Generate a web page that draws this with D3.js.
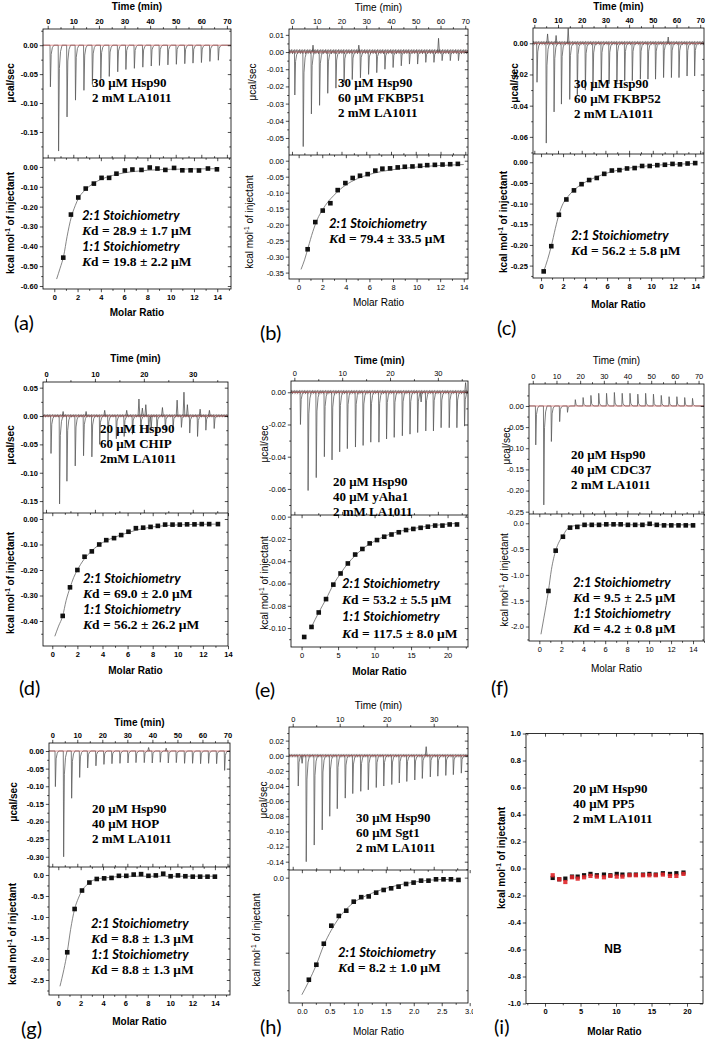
<!DOCTYPE html>
<html>
<head>
<meta charset="utf-8">
<script src="https://cdn.jsdelivr.net/npm/d3@7"></script>
<style>
  body { margin: 0; background: #fff; }
</style>
</head>
<body>
<script>
// ---------- values ----------
var time70Ticks = [0, 10, 20, 30, 40, 50, 60, 70];
var time30Ticks = [0, 10, 20, 30];
var ratio14Ticks = [0, 2, 4, 6, 8, 10, 12, 14];
var ratio20Ticks = [0, 5, 10, 15, 20];
var ratio3Ticks = [0, 0.5, 1.0, 1.5, 2.0, 2.5, 3.0];

// (a) 30 uM Hsp90 + 2 mM LA1011
var aNote = ["30 μM Hsp90", "2 mM LA1011"];
var aKd = [["2:1 Stoichiometry", "28.9 ± 1.7 μM"], ["1:1 Stoichiometry", "19.8 ± 2.2 μM"]];
var aPeakTime = [0.9, 4.1, 7.4, 10.7, 14.0, 17.3, 20.6, 23.9, 27.2, 30.4, 33.7, 37.0, 40.3, 43.5, 46.8, 50.1, 53.4, 56.6, 59.9, 63.2, 66.5];
var aPeakDepth = [-0.072, -0.183, -0.124, -0.095, -0.078, -0.068, -0.058, -0.054, -0.046, -0.042, -0.040, -0.038, -0.036, -0.035, -0.034, -0.033, -0.032, -0.031, -0.030, -0.028, -0.026];
var aRatio = [0.77, 1.43, 2.06, 2.7, 3.4, 4.06, 4.71, 5.34, 6.06, 6.71, 7.49, 8.2, 8.86, 9.54, 10.29, 11.0, 11.71, 12.43, 13.2, 13.97];
var aHeat = [-0.457, -0.24, -0.154, -0.109, -0.084, -0.055, -0.055, -0.034, -0.018, -0.013, -0.015, -0.003, -0.008, -0.015, -0.005, -0.017, -0.017, -0.018, -0.008, -0.012];
var aFit = [[0.2, -0.565], [0.5, -0.51], [0.8, -0.45], [1.1, -0.35], [1.45, -0.255], [1.8, -0.195], [2.1, -0.155], [2.5, -0.125], [3.0, -0.098], [3.5, -0.078], [4.0, -0.063], [5.0, -0.043], [6.0, -0.03], [7.0, -0.022], [8.0, -0.017], [10, -0.012], [12, -0.01], [14, -0.009]];
var aTopTicks = [0, -0.05, -0.10, -0.15];
var aBotTicks = [0, -0.1, -0.2, -0.3, -0.4, -0.5, -0.6];

// (b) + 60 uM FKBP51
var bNote = ["30 μM Hsp90", "60 μM FKBP51", "2 mM LA1011"];
var bKd = [["2:1 Stoichiometry", "79.4 ± 33.5 μM"]];
var bPeakTime = [1.0, 4.4, 7.7, 11.0, 14.3, 17.6, 20.9, 24.2, 27.5, 30.8, 34.1, 37.4, 40.7, 44.0, 47.3, 50.6, 53.9, 57.2, 60.5, 63.8, 67.1];
var bPeakDepth = [-0.025, -0.055, -0.036, -0.031, -0.024, -0.021, -0.018, -0.016, -0.015, -0.013, -0.012, -0.010, -0.009, -0.008, -0.007, -0.007, -0.006, -0.006, -0.005, -0.005, -0.005];
var bBumps = [[59.2, 0.008], [8.5, 0.004], [27, 0.004]];
var bRatio = [0.76, 1.41, 2.04, 2.69, 3.31, 3.96, 4.58, 5.2, 5.85, 6.5, 7.1, 7.75, 8.4, 9.0, 9.65, 10.3, 10.9, 11.55, 12.2, 12.85, 13.5];
var bHeat = [-0.277, -0.192, -0.156, -0.133, -0.092, -0.07, -0.054, -0.047, -0.042, -0.031, -0.025, -0.024, -0.021, -0.019, -0.018, -0.016, -0.014, -0.013, -0.012, -0.011, -0.010];
var bFit = [[0.2, -0.34], [0.5, -0.31], [0.8, -0.272], [1.2, -0.222], [1.6, -0.182], [2.0, -0.155], [2.5, -0.128], [3.0, -0.108], [3.5, -0.09], [4.0, -0.076], [5.0, -0.056], [6.0, -0.043], [7.0, -0.034], [8.0, -0.028], [10, -0.02], [12, -0.015], [14, -0.012]];
var bTopTicks = [0.01, 0, -0.01, -0.02, -0.03, -0.04, -0.05];
var bBotTicks = [0, -0.05, -0.10, -0.15, -0.20, -0.25, -0.30, -0.35];

// (c) + 60 uM FKBP52
var cNote = ["30 μM Hsp90", "60 μM FKBP52", "2 mM LA1011"];
var cKd = [["2:1 Stoichiometry", "56.2 ± 5.8 μM"]];
var cPeakTime = [1.0, 4.9, 8.2, 11.3, 14.8, 18.0, 21.4, 24.6, 28.1, 31.4, 34.7, 38.0, 41.2, 44.6, 47.8, 51.0, 54.4, 57.7, 60.9, 64.3, 67.5];
var cPeakDepth = [-0.025, -0.064, -0.044, -0.039, -0.036, -0.033, -0.030, -0.028, -0.027, -0.026, -0.025, -0.024, -0.024, -0.023, -0.023, -0.023, -0.022, -0.022, -0.022, -0.021, -0.021];
var cBumps = [[5.6, 0.006], [9.2, 0.005], [14.3, 0.0095], [56.5, 0.004]];
var cRatio = [0.24, 0.93, 1.62, 2.3, 2.99, 3.68, 4.37, 5.06, 5.74, 6.43, 7.12, 7.81, 8.5, 9.18, 9.87, 10.56, 11.25, 11.94, 12.62, 13.31, 14.0];
var cHeat = [-0.264, -0.203, -0.127, -0.09, -0.068, -0.053, -0.043, -0.038, -0.028, -0.02, -0.019, -0.015, -0.014, -0.009, -0.009, -0.007, -0.006, -0.004, -0.005, -0.003, -0.002];
var cFit = [[0.24, -0.264], [0.6, -0.235], [0.93, -0.203], [1.3, -0.16], [1.62, -0.127], [2.0, -0.1], [2.3, -0.088], [3.0, -0.067], [3.7, -0.053], [4.4, -0.043], [5.0, -0.036], [6.0, -0.026], [7.0, -0.019], [8.0, -0.014], [10, -0.008], [12, -0.005], [14, -0.003]];
var cTopTicks = [0, -0.02, -0.04, -0.06];
var cBotTicks = [0, -0.05, -0.10, -0.15, -0.20, -0.25];

// (d) + 60 uM CHIP
var dNote = ["20 μM Hsp90", "60 μM CHIP", "2mM LA1011"];
var dKd = [["2:1 Stoichiometry", "69.0 ± 2.0 μM"], ["1:1 Stoichiometry", "56.2 ± 26.2 μM"]];
var dPeakTime = [0.95, 2.7, 4.2, 5.9, 7.6, 9.3, 10.9, 12.6, 14.3, 15.9, 17.6, 19.3, 20.9, 22.6, 24.3, 25.9, 27.6, 29.3, 30.9, 32.6, 34.3];
var dPeakDepth = [-0.066, -0.155, -0.115, -0.088, -0.070, -0.072, -0.050, -0.046, -0.040, -0.036, -0.032, -0.030, -0.028, -0.030, -0.025, -0.022, -0.020, -0.030, -0.036, -0.025, -0.022];
var dBumps = [[19.0, 0.03], [19.7, 0.014], [20.4, 0.02], [21.5, -0.022], [23.8, 0.015], [26.8, 0.028], [28.2, 0.042], [28.9, 0.02], [31.5, 0.012], [33.4, 0.01], [3.5, 0.008], [8.2, 0.008], [12.0, 0.01], [16.5, 0.01]];
var dRatio = [0.83, 1.41, 2.0, 2.57, 3.15, 3.74, 4.3, 4.92, 5.49, 6.07, 6.66, 7.24, 7.83, 8.41, 8.99, 9.58, 10.16, 10.74, 11.33, 11.91, 12.5, 13.2];
var dHeat = [-0.38, -0.268, -0.2, -0.148, -0.127, -0.1, -0.083, -0.075, -0.063, -0.05, -0.036, -0.034, -0.031, -0.027, -0.022, -0.022, -0.022, -0.021, -0.021, -0.02, -0.02, -0.02];
var dFit = [[0.2, -0.46], [0.5, -0.42], [0.83, -0.38], [1.1, -0.32], [1.41, -0.27], [1.7, -0.23], [2.0, -0.2], [2.5, -0.16], [3.0, -0.132], [3.7, -0.102], [4.3, -0.085], [5.0, -0.071], [6.0, -0.054], [7.0, -0.04], [8.0, -0.031], [9.0, -0.026], [10, -0.023], [13.2, -0.02]];
var dTopTicks = [0.05, 0, -0.05, -0.10, -0.15];
var dBotTicks = [0, -0.1, -0.2, -0.3, -0.4];

// (e) + 40 uM yAha1
var eNote = ["20 μM Hsp90", "40 μM yAha1", "2 mM LA1011"];
var eKd = [["2:1 Stoichiometry", "53.2 ± 5.5 μM"], ["1:1 Stoichiometry", "117.5 ± 8.0 μM"]];
var ePeakTime = [1.2, 2.8, 4.5, 6.2, 7.8, 9.4, 11.0, 12.7, 14.3, 15.9, 17.6, 19.2, 20.8, 22.5, 24.1, 25.7, 27.4, 29.0, 30.6, 32.3, 33.9, 35.5];
var ePeakDepth = [-0.020, -0.061, -0.053, -0.040, -0.042, -0.037, -0.035, -0.034, -0.033, -0.031, -0.031, -0.029, -0.028, -0.027, -0.026, -0.025, -0.024, -0.024, -0.022, -0.022, -0.022, -0.021];
var eBumps = [[26.5, -0.006], [35.8, 0.006]];
var eRatio = [0.36, 1.36, 2.35, 3.35, 4.35, 5.34, 6.34, 7.34, 8.33, 9.33, 10.33, 11.32, 12.32, 13.32, 14.31, 15.31, 16.31, 17.3, 18.3, 19.3, 20.29, 21.29];
var eHeat = [-0.108, -0.099, -0.086, -0.074, -0.061, -0.051, -0.042, -0.034, -0.029, -0.024, -0.021, -0.018, -0.016, -0.014, -0.012, -0.011, -0.01, -0.009, -0.008, -0.008, -0.007, -0.007];
var eFit = [[1.36, -0.099], [2.35, -0.086], [3.35, -0.074], [4.35, -0.061], [5.34, -0.051], [6.34, -0.042], [7.34, -0.035], [8.33, -0.029], [10, -0.022], [12, -0.016], [15, -0.011], [18, -0.008], [21.3, -0.006]];
var eTopTicks = [0, -0.02, -0.04, -0.06];
var eBotTicks = [0, -0.02, -0.04, -0.06, -0.08, -0.10];

// (f) + 40 uM CDC37
var fNote = ["20 μM Hsp90", "40 μM CDC37", "2 mM LA1011"];
var fKd = [["2:1 Stoichiometry", "9.5 ± 2.5 μM"], ["1:1 Stoichiometry", "4.2 ± 0.8 μM"]];
var fPeakTime = [1.1, 4.5, 7.7, 11.2, 14.5, 17.8, 21.1, 24.4, 27.7, 31.0, 34.3, 37.6, 40.9, 44.2, 47.5, 50.8, 54.1, 57.4, 60.7, 64.0, 67.3];
var fPeakDepth = [-0.092, -0.234, -0.084, -0.037, -0.015, 0.015, 0.02, 0.025, 0.03, 0.03, 0.032, 0.03, 0.03, 0.028, 0.03, 0.028, 0.025, 0.022, 0.022, 0.02, 0.018];
var fRatio = [0.83, 1.49, 2.15, 2.8, 3.46, 4.12, 4.78, 5.44, 6.1, 6.76, 7.41, 8.07, 8.73, 9.39, 10.05, 10.7, 11.36, 12.02, 12.68, 13.34, 14.0];
var fHeat = [-1.31, -0.53, -0.26, -0.084, -0.07, -0.03, -0.03, -0.03, -0.02, -0.02, -0.02, -0.03, -0.03, -0.03, -0.01, -0.03, -0.04, -0.04, -0.04, -0.04, -0.04];
var fFit = [[0.15, -2.15], [0.4, -1.85], [0.83, -1.31], [1.1, -0.9], [1.49, -0.53], [1.8, -0.36], [2.15, -0.24], [2.5, -0.12], [2.8, -0.07], [3.5, -0.04], [5.0, -0.03], [14, -0.03]];
var fTopTicks = [0, -0.05, -0.10, -0.15, -0.20, -0.25];
var fBotTicks = [0, -0.5, -1.0, -1.5, -2.0];

// (g) + 40 uM HOP
var gNote = ["20 μM Hsp90", "40 μM HOP", "2 mM LA1011"];
var gKd = [["2:1 Stoichiometry", "8.8 ± 1.3 μM"], ["1:1 Stoichiometry", "8.8 ± 1.3 μM"]];
var gPeakTime = [1.1, 4.4, 7.6, 10.8, 14.0, 17.3, 20.5, 23.7, 26.9, 30.1, 33.3, 36.6, 39.8, 43.0, 46.2, 49.4, 52.7, 55.9, 59.1, 62.3, 65.5, 68.7];
var gPeakDepth = [-0.101, -0.300, -0.134, -0.075, -0.048, -0.042, -0.038, -0.036, -0.035, -0.034, -0.033, -0.033, -0.034, -0.032, -0.034, -0.033, -0.035, -0.035, -0.036, -0.035, -0.036, -0.055];
var gBumps = [[38.5, 0.01], [45.5, 0.008]];
var gRatio = [0.8, 1.46, 2.12, 2.78, 3.44, 4.1, 4.76, 5.42, 6.08, 6.74, 7.4, 8.06, 8.72, 9.38, 10.04, 10.7, 11.36, 12.02, 12.68, 13.34, 14.0];
var gHeat = [-1.84, -0.81, -0.37, -0.18, -0.095, -0.08, -0.07, -0.02, -0.02, 0.01, 0.02, -0.02, -0.01, 0.03, -0.03, -0.01, -0.03, -0.04, -0.04, -0.04, -0.04];
var gFit = [[0.15, -2.65], [0.5, -2.25], [0.8, -1.84], [1.1, -1.3], [1.46, -0.81], [1.8, -0.55], [2.12, -0.37], [2.5, -0.25], [2.78, -0.18], [3.4, -0.1], [4.5, -0.06], [6.0, -0.03], [14, -0.03]];
var gTopTicks = [0, -0.05, -0.10, -0.15, -0.20, -0.25, -0.30];
var gBotTicks = [0, -0.5, -1.0, -1.5, -2.0, -2.5];

// (h) + 60 uM Sgt1
var hNote = ["30 μM Hsp90", "60 μM Sgt1", "2 mM LA1011"];
var hKd = [["2:1 Stoichiometry", "8.2 ± 1.0 μM"]];
var hPeakTime = [1.1, 2.8, 4.5, 6.2, 7.8, 9.4, 11.1, 12.7, 14.4, 16.0, 17.7, 19.3, 21.0, 22.6, 24.2, 25.9, 27.5, 29.2, 30.8, 32.5, 34.1, 35.8];
var hPeakDepth = [-0.040, -0.140, -0.118, -0.098, -0.080, -0.070, -0.056, -0.050, -0.047, -0.045, -0.042, -0.040, -0.038, -0.036, -0.034, -0.032, -0.030, -0.028, -0.027, -0.026, -0.025, -0.023];
var hBumps = [[28.4, 0.012], [2.0, -0.01]];
var hRatio = [0.125, 0.259, 0.392, 0.526, 0.66, 0.794, 0.927, 1.061, 1.195, 1.328, 1.462, 1.596, 1.729, 1.863, 1.997, 2.131, 2.264, 2.398, 2.532, 2.665, 2.8];
var hHeat = [-0.68, -0.58, -0.44, -0.32, -0.255, -0.22, -0.16, -0.13, -0.125, -0.1, -0.082, -0.071, -0.06, -0.042, -0.033, -0.02, -0.02, -0.011, -0.011, -0.011, -0.015];
var hFit = [[0.0, -0.78], [0.125, -0.69], [0.259, -0.58], [0.392, -0.45], [0.526, -0.35], [0.66, -0.27], [0.794, -0.21], [0.95, -0.16], [1.15, -0.12], [1.35, -0.09], [1.55, -0.066], [1.85, -0.04], [2.15, -0.022], [2.45, -0.013], [2.8, -0.011]];
var hTopTicks = [0.02, 0, -0.02, -0.04, -0.06, -0.08, -0.10, -0.12, -0.14];
var hBotTicks = [0, -0.5];

// (i) + 40 uM PP5 (no binding)
var iNote = ["20 μM Hsp90", "40 μM PP5", "2 mM LA1011"];
var iRatio = [1.08, 2.0, 2.86, 3.8, 4.6, 5.5, 6.4, 7.3, 8.3, 9.2, 10.1, 10.9, 11.9, 12.8, 13.8, 14.7, 15.6, 16.6, 17.6, 18.5, 19.5];
var iHeatBlack = [-0.07, -0.08, -0.075, -0.06, -0.06, -0.05, -0.04, -0.05, -0.045, -0.05, -0.04, -0.045, -0.045, -0.045, -0.045, -0.04, -0.045, -0.035, -0.04, -0.035, -0.03];
var iHeatRed = [-0.05, -0.08, -0.1, -0.065, -0.075, -0.065, -0.055, -0.06, -0.065, -0.055, -0.06, -0.06, -0.05, -0.05, -0.05, -0.05, -0.05, -0.045, -0.055, -0.055, -0.04];
var iTicks = [1.0, 0.8, 0.6, 0.4, 0.2, 0, -0.2, -0.4, -0.6, -0.8, -1.0];

// ---------- layout ----------
var W = 707, H = 1040;
var loc = d3.formatLocale({ decimal: ".", thousands: ",", grouping: [3], currency: ["", ""], minus: "-" });
var AX = "'Liberation Sans', Arial, sans-serif";
var SERIF = "'Liberation Serif', 'Times New Roman', serif";
var CAL = "Lato, 'Open Sans', sans-serif";

var panels = [
  { id: "a", x0: 43, x1: 231, y0: 29, yD: 158, y1: 289, tDom: [-1.84, 71.6], tTicks: time70Ticks,
    pDom: [-0.195, 0.028], pTicks: aTopTicks, pFmt: ".2f", hDom: [-0.615, 0.045], hTicks: aBotTicks, hFmt: ".2f",
    rDom: [-0.97, 15.18], rTicks: ratio14Ticks, rFmt: "d", pkT: aPeakTime, pkV: aPeakDepth, bumps: [], noise: 1.6,
    ratio: aRatio, heat: aHeat, fit: aFit, note: aNote, kd: aKd, bTick: true, bTime: true, bY: true, bRatio: true,
    timeY: 6, ratioY: 312, yT: [10, 83], yB: [10, 223], noteXY: [92, 82], kdXY: [82, 215], kdGap: 15.5, letter: ["(a)", 14, 330] },
  { id: "b", x0: 289, x1: 468, y0: 29, yD: 155, y1: 279, tDom: [-1.2, 71.1], tTicks: time70Ticks,
    pDom: [-0.0599, 0.0134], pTicks: bTopTicks, pFmt: ".2f", hDom: [-0.37, 0.0178], hTicks: bBotTicks, hFmt: ".2f",
    rDom: [-0.82, 14.36], rTicks: ratio14Ticks, rFmt: "d", pkT: bPeakTime, pkV: bPeakDepth, bumps: bBumps, noise: 6,
    ratio: bRatio, heat: bHeat, fit: bFit, note: bNote, kd: bKd, bTick: false, bTime: false, bY: false, bRatio: false,
    timeY: 7, ratioY: 302, yT: [252, 82], yB: [249, 222], noteXY: [338, 82], kdXY: [329, 223], kdGap: 15.5, letter: ["(b)", 260, 340] },
  { id: "c", x0: 533, x1: 704, y0: 28, yD: 154, y1: 278, tDom: [-0.55, 71.6], tTicks: time70Ticks,
    pDom: [-0.071, 0.0098], pTicks: cTopTicks, pFmt: ".2f", hDom: [-0.28, 0.02], hTicks: cBotTicks, hFmt: ".2f",
    rDom: [-0.73, 14.8], rTicks: ratio14Ticks, rFmt: "d", pkT: cPeakTime, pkV: cPeakDepth, bumps: cBumps, noise: 5,
    ratio: cRatio, heat: cHeat, fit: cFit, note: cNote, kd: cKd, bTick: true, bTime: true, bY: true, bRatio: true,
    timeY: 6, ratioY: 304, yT: [514, 83], yB: [503, 222], noteXY: [574, 83], kdXY: [571, 235], kdGap: 15.5, letter: ["(c)", 497, 335] },
  { id: "d", x0: 43, x1: 228, y0: 382, yD: 513, y1: 646, tDom: [-0.61, 37.2], tTicks: time30Ticks,
    pDom: [-0.171, 0.06], pTicks: dTopTicks, pFmt: ".2f", hDom: [-0.498, 0.0235], hTicks: dBotTicks, hFmt: ".2f",
    rDom: [-0.74, 14.0], rTicks: ratio14Ticks, rFmt: "d", pkT: dPeakTime, pkV: dPeakDepth, bumps: dBumps, noise: 4,
    ratio: dRatio, heat: dHeat, fit: dFit, note: dNote, kd: dKd, bTick: true, bTime: true, bY: true, bRatio: true,
    timeY: 358, ratioY: 670, yT: [10, 445], yB: [10, 583], noteXY: [100, 428], kdXY: [83, 578], kdGap: 15.5, letter: ["(d)", 19, 695] },
  { id: "e", x0: 291, x1: 468, y0: 381, yD: 515, y1: 647, tDom: [-0.7, 36.3], tTicks: time30Ticks,
    pDom: [-0.0762, 0.007], pTicks: eTopTicks, pFmt: ".2f", hDom: [-0.117, 0.0015], hTicks: eBotTicks, hFmt: ".2f",
    rDom: [-1.45, 22.8], rTicks: ratio20Ticks, rFmt: "d", pkT: ePeakTime, pkV: ePeakDepth, bumps: eBumps, noise: 5,
    ratio: eRatio, heat: eHeat, fit: eFit, note: eNote, kd: eKd, bTick: false, bTime: true, bY: false, bRatio: true,
    timeY: 360, ratioY: 671, yT: [264, 444], yB: [264, 583], noteXY: [333, 481], kdXY: [342, 583], kdGap: 16.7, letter: ["(e)", 255, 697] },
  { id: "f", x0: 529, x1: 704, y0: 384, yD: 514, y1: 641, tDom: [-1.6, 72.3], tTicks: time70Ticks,
    pDom: [-0.2555, 0.052], pTicks: fTopTicks, pFmt: ".2f", hDom: [-2.28, 0.18], hTicks: fBotTicks, hFmt: ".1f",
    rDom: [-0.94, 15.0], rTicks: ratio14Ticks, rFmt: "d", pkT: fPeakTime, pkV: fPeakDepth, bumps: [], noise: 1.4,
    ratio: fRatio, heat: fHeat, fit: fFit, note: fNote, kd: fKd, bTick: false, bTime: false, bY: false, bRatio: false,
    timeY: 360, ratioY: 668, yT: [506, 446], yB: [504, 580], noteXY: [571, 454], kdXY: [573, 582], kdGap: 15.5, letter: ["(f)", 491, 695] },
  { id: "g", x0: 49, x1: 230, y0: 743, yD: 867, y1: 995, tDom: [-1.3, 71.0], tTicks: time70Ticks,
    pDom: [-0.329, 0.0227], pTicks: gTopTicks, pFmt: ".2f", hDom: [-2.857, 0.19], hTicks: gBotTicks, hFmt: ".1f",
    rDom: [-0.83, 15.35], rTicks: ratio14Ticks, rFmt: "d", pkT: gPeakTime, pkV: gPeakDepth, bumps: gBumps, noise: 1.4,
    ratio: gRatio, heat: gHeat, fit: gFit, note: gNote, kd: gKd, bTick: true, bTime: true, bY: true, bRatio: true,
    timeY: 722, ratioY: 1021, yT: [13, 802], yB: [12, 934], noteXY: [92, 808], kdXY: [91, 923], kdGap: 15.5, letter: ["(g)", 21, 1036] },
  { id: "h", x0: 289, x1: 468, y0: 727, yD: 870, y1: 1003, tDom: [-0.79, 37.3], tTicks: time30Ticks,
    pDom: [-0.151, 0.038], pTicks: hTopTicks, pFmt: ".2f", hDom: [-0.835, 0.051], hTicks: hBotTicks, hFmt: ".1f",
    rDom: [-0.23, 2.97], rTicks: ratio3Ticks, rFmt: ".1f", pkT: hPeakTime, pkV: hPeakDepth, bumps: hBumps, noise: 4,
    ratio: hRatio, heat: hHeat, fit: hFit, note: hNote, kd: hKd, bTick: false, bTime: false, bY: false, bRatio: false,
    timeY: 705, ratioY: 1031, yT: [263, 800], yB: [256, 940], noteXY: [356, 817], kdXY: [338, 952], kdGap: 15.5, letter: ["(h)", 260, 1034],
    onlyZeroLabel: true, clipX: 473 }
];

var svg = d3.select("body").append("svg").attr("width", W).attr("height", H)
  .style("font-family", AX);
var defs = svg.append("defs");

function setTicks(sel, bold, size) {
  sel.select(".domain").remove();
  sel.selectAll("line").attr("stroke", "#000").attr("stroke-width", 0.7);
  sel.selectAll("text").attr("font-size", size || 7.5).attr("font-weight", bold ? "bold" : "normal")
    .attr("fill", "#000").attr("font-family", AX);
}

function minorTicks(major, dom) {
  var step = Math.abs(major[1] - major[0]);
  var lo = Math.min(dom[0], dom[1]), hi = Math.max(dom[0], dom[1]);
  var out = [];
  var m0 = d3.min(major);
  for (var v = m0 - step / 2; v <= hi + 1e-9; v += step) if (v >= lo) out.push(v);
  return out;
}

// major + minor ticks; labelled (outward) or mirrored (inward)
function axisSet(g, axisFn, scale, major, fmtFn, inward, bold, transform) {
  var minor = minorTicks(major, scale.domain());
  var s = inward ? -1 : 1;
  g.append("g").attr("transform", transform)
    .call(axisFn(scale).tickValues(minor).tickSize(1.8 * s).tickFormat(""))
    .call(setTicks, bold);
  g.append("g").attr("transform", transform)
    .call(axisFn(scale).tickValues(major).tickSize(3.2 * s).tickPadding(2).tickFormat(fmtFn || ""))
    .call(setTicks, bold);
}

function rotTitle(g, x, y, bold, kcal) {
  var t = g.append("text").attr("transform", "translate(" + x + "," + y + ") rotate(-90)")
    .attr("text-anchor", "middle").attr("dy", "0.35em").attr("font-size", 10)
    .attr("font-weight", bold ? "bold" : "normal").attr("font-family", AX);
  if (kcal) {
    t.append("tspan").text("kcal mol");
    t.append("tspan").text("-1").attr("font-size", 6.5).attr("dy", -4);
    t.append("tspan").text(" of injectant").attr("dy", 4);
  } else {
    t.text("μcal/sec");
  }
}

function noteLines(g, lines, x, y) {
  lines.forEach(function (s, k) {
    g.append("text").attr("x", x).attr("y", y + k * 15).attr("dy", "0.35em")
      .attr("font-family", SERIF).attr("font-weight", "bold").attr("font-size", 13).text(s);
  });
}

function kdLines(g, kd, x, y, gap) {
  kd.forEach(function (pair, k) {
    var yy = y + k * gap * 2;
    g.append("text").attr("x", x).attr("y", yy).attr("dy", "0.35em")
      .attr("font-family", CAL).attr("font-weight", "bold").attr("font-style", "italic")
      .attr("font-size", 13).text(pair[0]);
    var t = g.append("text").attr("x", x).attr("y", yy + gap).attr("dy", "0.35em")
      .attr("font-family", SERIF).attr("font-weight", "bold").attr("font-size", 13.5);
    t.append("tspan").attr("font-style", "italic").text("K");
    t.append("tspan").text("d = " + pair[1]);
  });
}

function drawPanel(p) {
  var g = svg.append("g");
  if (p.clipX) {
    defs.append("clipPath").attr("id", "pc-" + p.id).append("rect")
      .attr("x", 0).attr("y", 0).attr("width", p.clipX).attr("height", H);
    g.attr("clip-path", "url(#pc-" + p.id + ")");
  }
  var tx = d3.scaleLinear().domain(p.tDom).range([p.x0, p.x1]);
  var py = d3.scaleLinear().domain(p.pDom).range([p.yD, p.y0]);
  var rx = d3.scaleLinear().domain(p.rDom).range([p.x0, p.x1]);
  var hy = d3.scaleLinear().domain(p.hDom).range([p.y1, p.yD]);

  // ---- thermogram ----
  defs.append("clipPath").attr("id", "tc-" + p.id).append("rect")
    .attr("x", p.x0).attr("y", p.y0).attr("width", p.x1 - p.x0).attr("height", p.yD - p.y0);
  var tg = g.append("g").attr("clip-path", "url(#tc-" + p.id + ")");
  var span = (p.tDom[1] - p.tDom[0]) / 73;

  if (p.noise > 2) {
    var nh = p.noise;
    var pat = defs.append("pattern").attr("id", "nz-" + p.id).attr("patternUnits", "userSpaceOnUse")
      .attr("width", 2.6).attr("height", nh).attr("y", py(0) - nh / 2);
    pat.append("path").attr("d", "M0," + nh * 0.55 + "L0.65,0.3L1.3," + nh * 0.8 + "L1.95," + nh * 0.2 + "L2.6," + nh * 0.55)
      .attr("fill", "none").attr("stroke", "#3a3030").attr("stroke-width", 0.55);
    tg.append("rect").attr("x", p.x0).attr("width", p.x1 - p.x0)
      .attr("y", py(0) - nh / 2).attr("height", nh).attr("fill", "url(#nz-" + p.id + ")");
  }

  var line = d3.line().x(function (d) { return tx(d[0]); }).y(function (d) { return py(d[1]); });
  var trace = [[p.tDom[0], 0]];
  p.pkT.forEach(function (t, k) {
    var v = p.pkV[k];
    trace.push([t, 0], [t + 0.15 * span, v], [t + 0.45 * span, v * 0.22], [t + 0.9 * span, v * 0.06], [t + 1.5 * span, 0]);
  });
  trace.push([p.tDom[1], 0]);
  tg.append("path").attr("d", line(trace)).attr("fill", "none")
    .attr("stroke", "#5a5a5a").attr("stroke-width", 0.8).attr("stroke-linejoin", "round");
  p.bumps.forEach(function (b) {
    tg.append("path").attr("d", line([[b[0] - 0.35 * span, 0], [b[0], b[1]], [b[0] + 0.35 * span, 0]]))
      .attr("fill", "none").attr("stroke", "#4a4a4a").attr("stroke-width", 0.75);
  });
  tg.append("path").attr("d", line([[p.tDom[0], 0], [p.tDom[1], 0]]))
    .attr("stroke", "#d04a4a").attr("stroke-width", 0.7).attr("opacity", 0.85);

  // ---- isotherm ----
  var fitLine = d3.line().curve(d3.curveMonotoneX)
    .x(function (d) { return rx(d[0]); }).y(function (d) { return hy(d[1]); });
  g.append("path").attr("d", fitLine(p.fit)).attr("fill", "none")
    .attr("stroke", "#666").attr("stroke-width", 0.8);
  var sq = 4.6;
  g.selectAll(null).data(p.ratio).enter().append("rect")
    .attr("x", function (d) { return rx(d) - sq / 2; })
    .attr("y", function (d, k) { return hy(p.heat[k]) - sq / 2; })
    .attr("width", sq).attr("height", sq).attr("fill", "#111");

  // ---- frames ----
  g.append("rect").attr("x", p.x0).attr("y", p.y0).attr("width", p.x1 - p.x0).attr("height", p.y1 - p.y0)
    .attr("fill", "none").attr("stroke", "#000").attr("stroke-width", 0.8);
  g.append("line").attr("x1", p.x0).attr("x2", p.x1).attr("y1", p.yD).attr("y2", p.yD)
    .attr("stroke", "#000").attr("stroke-width", 0.8);

  // ---- axes ----
  var ft = loc.format("d");
  axisSet(g, d3.axisTop, tx, p.tTicks, ft, false, p.bTick, "translate(0," + p.y0 + ")");
  axisSet(g, d3.axisBottom, tx, p.tTicks, null, true, p.bTick, "translate(0," + p.yD + ")");
  axisSet(g, d3.axisLeft, py, p.pTicks, loc.format(p.pFmt), false, p.bTick, "translate(" + p.x0 + ",0)");
  axisSet(g, d3.axisRight, py, p.pTicks, null, true, p.bTick, "translate(" + p.x1 + ",0)");
  var hf = loc.format(p.hFmt);
  var hFmt = p.onlyZeroLabel ? function (d) { return d === 0 ? hf(d) : ""; } : hf;
  axisSet(g, d3.axisLeft, hy, p.hTicks, hFmt, false, p.bTick, "translate(" + p.x0 + ",0)");
  axisSet(g, d3.axisRight, hy, p.hTicks, null, true, p.bTick, "translate(" + p.x1 + ",0)");
  axisSet(g, d3.axisBottom, rx, p.rTicks, loc.format(p.rFmt), false, p.bTick, "translate(0," + p.y1 + ")");
  axisSet(g, d3.axisTop, rx, p.rTicks, null, true, p.bTick, "translate(0," + p.yD + ")");

  // ---- titles ----
  var cx = (p.x0 + p.x1) / 2;
  g.append("text").attr("x", cx).attr("y", p.timeY).attr("dy", "0.35em").attr("text-anchor", "middle")
    .attr("font-size", 10).attr("font-weight", p.bTime ? "bold" : "normal").text("Time (min)");
  g.append("text").attr("x", cx).attr("y", p.ratioY).attr("dy", "0.35em").attr("text-anchor", "middle")
    .attr("font-size", 10).attr("font-weight", p.bRatio ? "bold" : "normal").text("Molar Ratio");
  rotTitle(g, p.yT[0], p.yT[1], p.bY, false);
  rotTitle(g, p.yB[0], p.yB[1], p.bY, true);

  noteLines(g, p.note, p.noteXY[0], p.noteXY[1]);
  kdLines(g, p.kd, p.kdXY[0], p.kdXY[1], p.kdGap);
  svg.append("text").attr("x", p.letter[1]).attr("y", p.letter[2]).attr("font-family", CAL)
    .attr("font-size", 20).text(p.letter[0]);
}

panels.forEach(drawPanel);

// ---- (i) : single isotherm, no binding ----
(function () {
  var x0 = 526, x1 = 703, y0 = 733.5, y1 = 1003.5;
  var g = svg.append("g");
  var rx = d3.scaleLinear().domain([-2.68, 22.25]).range([x0, x1]);
  var hy = d3.scaleLinear().domain([-1, 1]).range([y1, y0]);
  var sq = 4.2;
  g.selectAll(null).data(iRatio).enter().append("rect")
    .attr("x", function (d) { return rx(d) - sq / 2; })
    .attr("y", function (d, k) { return hy(iHeatBlack[k]) - sq / 2; })
    .attr("width", sq).attr("height", sq).attr("fill", "#111");
  g.selectAll(null).data(iRatio).enter().append("rect")
    .attr("x", function (d) { return rx(d) - sq / 2; })
    .attr("y", function (d, k) { return hy(iHeatRed[k]) - sq / 2; })
    .attr("width", sq).attr("height", sq).attr("fill", "#e0262a").attr("opacity", 0.9);
  g.append("rect").attr("x", x0).attr("y", y0).attr("width", x1 - x0).attr("height", y1 - y0)
    .attr("fill", "none").attr("stroke", "#000").attr("stroke-width", 0.8);
  axisSet(g, d3.axisLeft, hy, iTicks.slice().reverse(), loc.format(".1f"), false, true, "translate(" + x0 + ",0)");
  axisSet(g, d3.axisRight, hy, iTicks.slice().reverse(), null, true, true, "translate(" + x1 + ",0)");
  axisSet(g, d3.axisBottom, rx, ratio20Ticks, loc.format("d"), false, true, "translate(0," + y1 + ")");
  axisSet(g, d3.axisTop, rx, ratio20Ticks, null, true, true, "translate(0," + y0 + ")");
  g.append("text").attr("x", (x0 + x1) / 2).attr("y", 1031).attr("dy", "0.35em").attr("text-anchor", "middle")
    .attr("font-size", 10).attr("font-weight", "bold").text("Molar Ratio");
  rotTitle(g, 501, 858, true, true);
  noteLines(g, iNote, 573, 788);
  g.append("text").attr("x", 613).attr("y", 949).attr("dy", "0.35em").attr("text-anchor", "middle")
    .attr("font-size", 12).attr("font-weight", "bold").text("NB");
  svg.append("text").attr("x", 494).attr("y", 1034).attr("font-family", CAL).attr("font-size", 20).text("(i)");
})();
</script>
</body>
</html>
